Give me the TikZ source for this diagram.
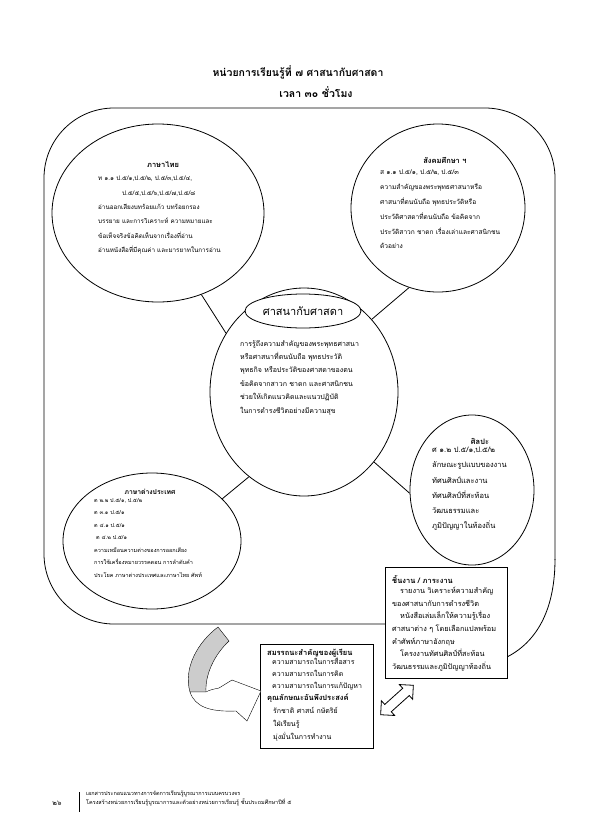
\documentclass[tikz,border=0pt]{standalone}
\usepackage{fontspec}
\setmainfont[Script=Thai]{Loma}
\usetikzlibrary{shapes.geometric,shapes.arrows,positioning}
\tikzset{
  bubble/.style={draw=black, thick, ellipse, inner sep=0pt},
  infobox/.style={draw=black, line width=1.3pt, fill=white, inner sep=0pt, anchor=north west},
  body/.style={font=\fontsize{7}{14}\selectfont, align=left, anchor=north west, inner sep=0pt},
  head/.style={font=\bfseries\fontsize{7.5}{9}\selectfont, inner sep=0pt},
  title/.style={font=\bfseries\fontsize{10.5}{12}\selectfont, inner sep=0pt},
  link/.style={thick}
}

\begin{document}
\begin{tikzpicture}[x=1pt,y=-1pt]
\useasboundingbox (0,0) rectangle (595,836);

\node[title] (unit) at (298,72) {หน่วยการเรียนรู้ที่ ๗ ศาสนากับศาสดา};
\node[title] (hours) at (316,92) {เวลา ๓๐ ชั่วโมง};

% outer frame
\draw[thick, rounded corners=70pt] (386,624) -- (44,624) -- (44,108) -- (555,108) -- (555,560);
\draw[thick] (555,559) .. controls (555,605) and (540,640) .. (507,657);

% bubbles
\node[bubble, minimum width=212, minimum height=178] (thai) at (158,213) {};
\node[bubble, minimum width=174, minimum height=168] (social) at (438,208) {};
\node[bubble, minimum width=188, minimum height=208] (core) at (304,392) {};
\node[bubble, minimum width=178, minimum height=136] (foreign) at (152,541) {};
\node[bubble, minimum width=124, minimum height=150] (art) at (472,490) {};
\node[bubble, fill=white, minimum width=116, minimum height=34] (topic) at (303,311) {};
\node[font=\fontsize{11}{13}\selectfont, inner sep=0pt] (topictxt) at (topic) {ศาสนากับศาสดา};

\draw[link] (thai.-62) -- (core.143);
\draw[link] (social.-110) -- (core.47);
\draw[link] (foreign.31) -- (core.-123);
\draw[link] (art.-177) -- (core.-45);

% thai
\node[head] (thaih) at (163,165) {ภาษาไทย};
\node[body, font=\fontsize{6.3}{14.4}\selectfont] (thaib) at (98,176) {ท ๑.๑ ป.๕/๑,ป.๕/๒, ป.๕/๓,ป.๕/๔,\\
\hspace*{24pt}ป.๕/๕,ป.๕/๖,ป.๕/๗,ป.๕/๘\\
อ่านออกเสียงบทร้อยแก้ว บทร้อยกรอง\\
บรรยาย และการวิเคราะห์ ความหมายและ\\
ข้อเท็จจริงข้อคิดเห็นจากเรื่องที่อ่าน\\
อ่านหนังสือที่มีคุณค่า และมารยาทในการอ่าน};

% social
\node[head] (socialh) at (445,160) {สังคมศึกษา ฯ};
\node[body, font=\fontsize{6.6}{14.8}\selectfont] (socialb) at (380,170) {ส ๑.๑ ป.๕/๑, ป.๕/๒, ป.๕/๓\\
ความสำคัญของพระพุทธศาสนาหรือ\\
ศาสนาที่ตนนับถือ พุทธประวัติหรือ\\
ประวัติศาสดาที่ตนนับถือ  ข้อคิดจาก\\
ประวัติสาวก ชาดก เรื่องเล่าและศาสนิกชน\\
ตัวอย่าง};

% core
\node[body, font=\fontsize{7}{13.4}\selectfont] (coreb) at (240,340) {การรู้ถึงความสำคัญของพระพุทธศาสนา\\
หรือศาสนาที่ตนนับถือ พุทธประวัติ\\
พุทธกิจ หรือประวัติของศาสดาของตน\\
ข้อคิดจากสาวก ชาดก และศาสนิกชน\\
ช่วยให้เกิดแนวคิดและแนวปฏิบัติ\\
ในการดำรงชีวิตอย่างมีความสุข};

% foreign
\node[head, font=\bfseries\fontsize{6.8}{9}\selectfont] (foreignh) at (150,492) {ภาษาต่างประเทศ};
\node[body, font=\fontsize{5.5}{12.5}\selectfont] (foreignb) at (94,498) {ต ๒.๒ ป.๕/๑, ป.๕/๒\\
ต ๓.๑ ป.๕/๑\\
ต ๔.๑ ป.๕/๑\\
\hspace*{2pt}ต ๔.๒ ป.๕/๑\\
ความเหมือนความต่างของการออกเสียง\\
การใช้เครื่องหมายวรรคตอน การลำดับคำ\\
ประโยค ภาษาต่างประเทศและภาษาไทย ศัพท์};

% art
\node[head] (arth) at (480,441) {ศิลปะ};
\node[body, font=\fontsize{7.5}{15.2}\selectfont] (artb) at (432,447) {ศ ๑.๒ ป.๕/๑,ป.๕/๒\\
ลักษณะรูปแบบของงาน\\
ทัศนศิลป์และงาน\\
ทัศนศิลป์ที่สะท้อน\\
วัฒนธรรมและ\\
ภูมิปัญญาในท้องถิ่น};

% work box
\node[infobox, minimum width=122, minimum height=111] (work) at (385,567) {};
\node[head, anchor=west] (workh) at (392,580) {ชิ้นงาน / ภาระงาน};
\node[body, font=\fontsize{7.3}{12.6}\selectfont] (workb) at (392,587) {\hspace*{8pt}รายงาน วิเคราะห์ความสำคัญ\\
ของศาสนากับการดำรงชีวิต\\
\hspace*{8pt}หนังสือเล่มเล็กให้ความรู้เรื่อง\\
ศาสนาต่าง ๆ โดยเลือกแปลพร้อม\\
คำศัพท์ภาษาอังกฤษ\\
\hspace*{8pt}โครงงานทัศนศิลป์ที่สะท้อน\\
วัฒนธรรมและภูมิปัญญาท้องถิ่น};

% competency box
\node[infobox, minimum width=113, minimum height=104] (skill) at (260,644) {};
\node[head, anchor=west] (skillh) at (267,653) {สมรรถนะสำคัญของผู้เรียน};
\node[body, font=\fontsize{7}{11.8}\selectfont] (skillb) at (272,657) {ความสามารถในการสื่อสาร\\
ความสามารถในการคิด\\
ความสามารถในการแก้ปัญหา};
\node[head, anchor=west] (traith) at (267,698) {คุณลักษณะอันพึงประสงค์};
\node[body, font=\fontsize{7}{13}\selectfont] (traitb) at (273,707) {รักชาติ ศาสน์ กษัตริย์\\
ใฝ่เรียนรู้\\
มุ่งมั่นในการทำงาน};

% curved arrow
\filldraw[fill=gray!40, draw=black] (218,627) .. controls (198,642) and (183,668) .. (190,692)
  -- (206,692) .. controls (205,675) and (214,655) .. (229,641) -- cycle;
\filldraw[fill=white, draw=black] (190,692) .. controls (195,707) and (210,712) .. (236,711)
  -- (247,721) -- (261,691) -- (232,680) -- (219,688)
  .. controls (214,689) and (209,690) .. (206,692) -- cycle;

% double arrow
\node[double arrow, draw, thick, fill=white, rotate=42, minimum height=44pt,
  double arrow head extend=5pt, inner sep=4.5pt] (swap) at (397,700) {};

% footer
\node[font=\fontsize{7}{8}\selectfont, inner sep=0pt] (page) at (57,803) {๒๖};
\draw (79,792) -- (79,812);
\node[body, font=\fontsize{5.5}{8.5}\selectfont] (foot) at (86,791) {เอกสารประกอบแนวทางการจัดการเรียนรู้บูรณาการแบบครบวงจร\\
โครงสร้างหน่วยการเรียนรู้บูรณาการและตัวอย่างหน่วยการเรียนรู้ ชั้นประถมศึกษาปีที่ ๕};
\end{tikzpicture}
\end{document}
